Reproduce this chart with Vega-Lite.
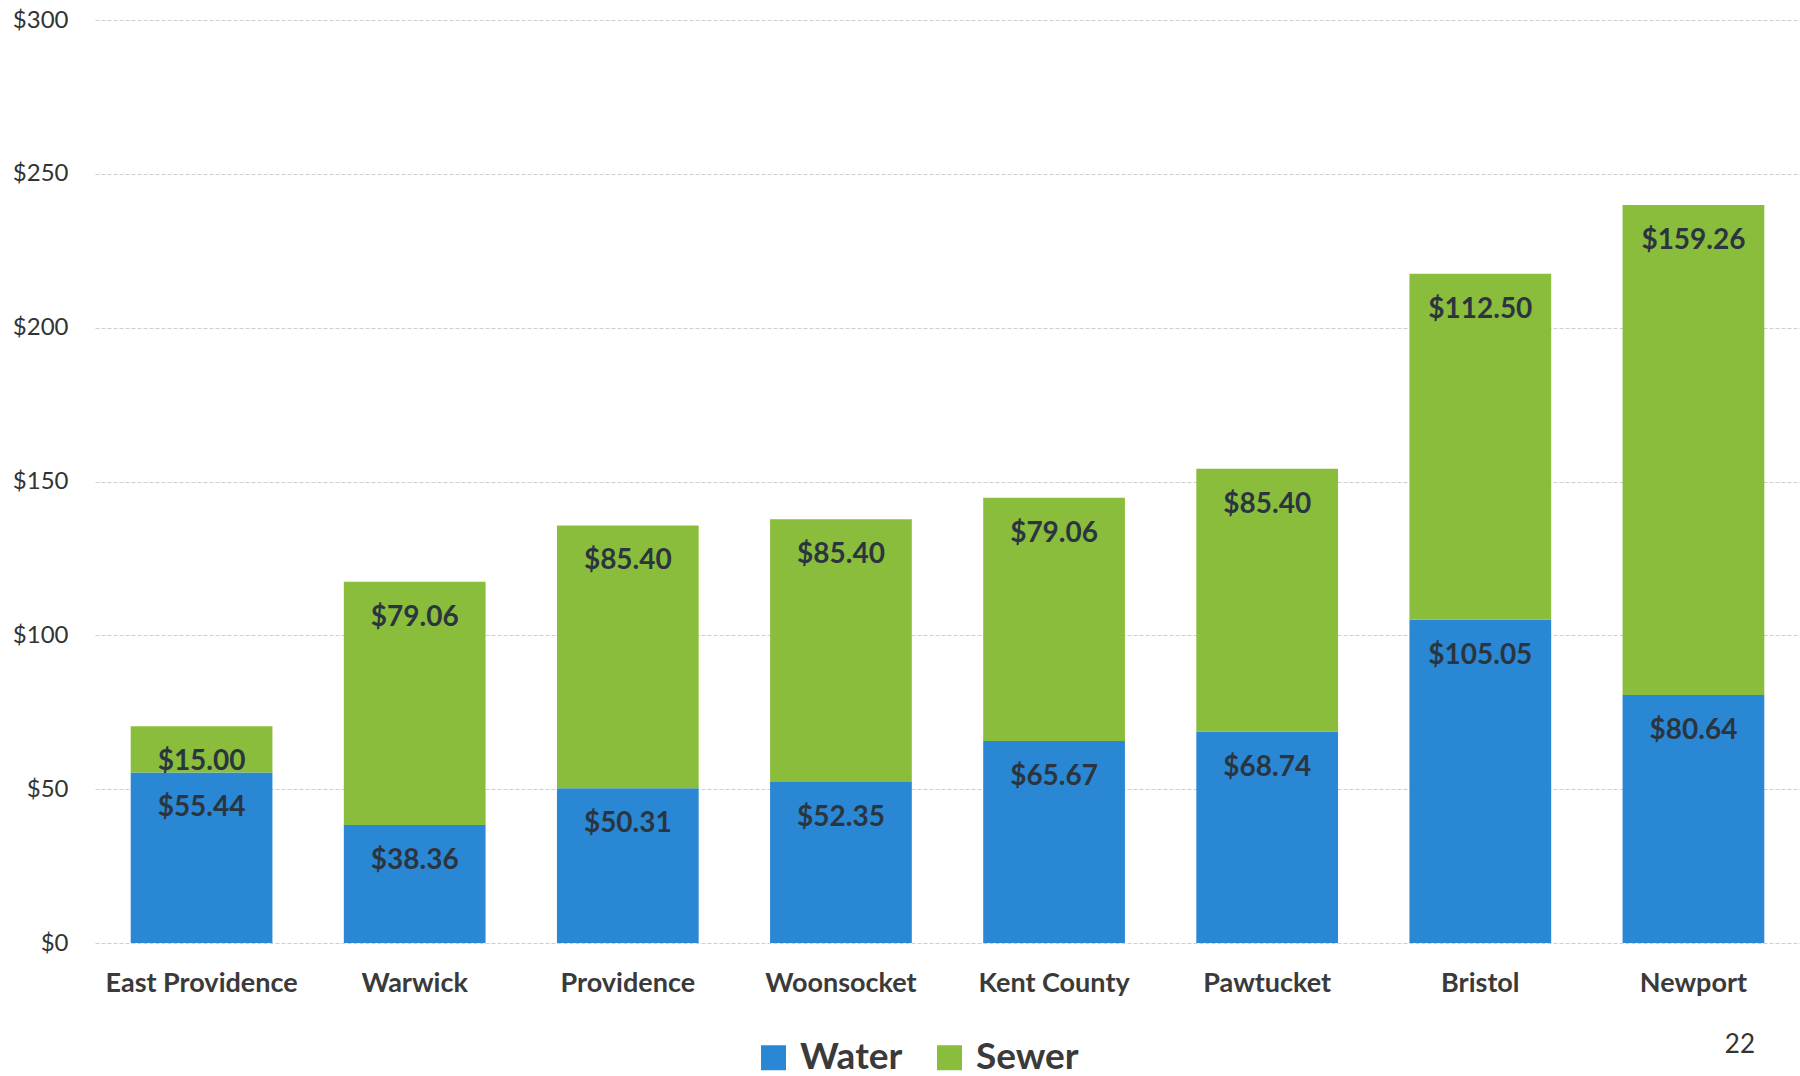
{
  "$schema": "https://vega.github.io/schema/vega-lite/v6.json",
  "autosize": {"type": "none"},
  "padding": {"left": 95, "top": 20, "right": 0, "bottom": 133},
  "width": 1705,
  "height": 923,
  "background": "white",
  "config": {
    "font": "Lato",
    "view": {"stroke": null}
  },
  "title": {
    "text": "22",
    "orient": "bottom",
    "anchor": "end",
    "fontSize": 26,
    "fontWeight": "normal",
    "color": "#333333",
    "font": "Lato",
    "dx": -45,
    "offset": -44
  },
  "data": {
    "values": [
      {"city": "East Providence", "type": "Water", "order": 1, "value": 55.44},
      {"city": "East Providence", "type": "Sewer", "order": 2, "value": 15.00},
      {"city": "Warwick", "type": "Water", "order": 1, "value": 38.36},
      {"city": "Warwick", "type": "Sewer", "order": 2, "value": 79.06},
      {"city": "Providence", "type": "Water", "order": 1, "value": 50.31},
      {"city": "Providence", "type": "Sewer", "order": 2, "value": 85.40},
      {"city": "Woonsocket", "type": "Water", "order": 1, "value": 52.35},
      {"city": "Woonsocket", "type": "Sewer", "order": 2, "value": 85.40},
      {"city": "Kent County", "type": "Water", "order": 1, "value": 65.67},
      {"city": "Kent County", "type": "Sewer", "order": 2, "value": 79.06},
      {"city": "Pawtucket", "type": "Water", "order": 1, "value": 68.74},
      {"city": "Pawtucket", "type": "Sewer", "order": 2, "value": 85.40},
      {"city": "Bristol", "type": "Water", "order": 1, "value": 105.05},
      {"city": "Bristol", "type": "Sewer", "order": 2, "value": 112.50},
      {"city": "Newport", "type": "Water", "order": 1, "value": 80.64},
      {"city": "Newport", "type": "Sewer", "order": 2, "value": 159.26}
    ]
  },
  "transform": [
    {"stack": "value", "groupby": ["city"], "sort": [{"field": "order", "order": "ascending"}], "as": ["v0", "v1"]}
  ],
  "encoding": {
    "x": {
      "field": "city",
      "type": "nominal",
      "sort": null,
      "scale": {"paddingInner": 0.335, "paddingOuter": 0.1675},
      "axis": {
        "title": null,
        "labelAngle": 0,
        "labelFontSize": 27,
        "labelFontWeight": "bold",
        "labelColor": "#3a3a3a",
        "labelPadding": 27,
        "labelLimit": 0,
        "ticks": false,
        "domain": false
      }
    }
  },
  "layer": [
    {
      "mark": {"type": "bar"},
      "encoding": {
        "y": {
          "field": "v1",
          "type": "quantitative",
          "scale": {"domain": [0, 300], "nice": false},
          "axis": {
            "title": null,
            "values": [0, 50, 100, 150, 200, 250, 300],
            "format": "$.0f",
            "labelFontSize": 24,
            "labelColor": "#333333",
            "labelPadding": 27,
            "ticks": false,
            "domain": false,
            "grid": true,
            "gridColor": "#cfcfcf",
            "gridDash": [4, 2],
            "gridWidth": 1
          }
        },
        "y2": {"field": "v0"},
        "color": {
          "field": "type",
          "type": "nominal",
          "scale": {"domain": ["Water", "Sewer"], "range": ["#2a87d3", "#8bbd3c"]},
          "legend": {
            "title": null,
            "orient": "none",
            "direction": "horizontal",
            "legendX": 660,
            "legendY": 1019,
            "symbolType": "square",
            "symbolSize": 625,
            "symbolStrokeWidth": 0,
            "labelFontSize": 37,
            "labelFontWeight": "bold",
            "labelColor": "#3a3a3a",
            "labelOffset": 8,
            "columnPadding": 28,
            "labelFont": "Lato"
          }
        }
      }
    },
    {
      "mark": {"type": "text", "dy": 36, "fontSize": 28, "fontWeight": "bold", "color": "#2b3540", "baseline": "middle"},
      "encoding": {
        "y": {"field": "v1", "type": "quantitative"},
        "text": {"field": "value", "type": "quantitative", "format": "$.2f"}
      }
    }
  ]
}
